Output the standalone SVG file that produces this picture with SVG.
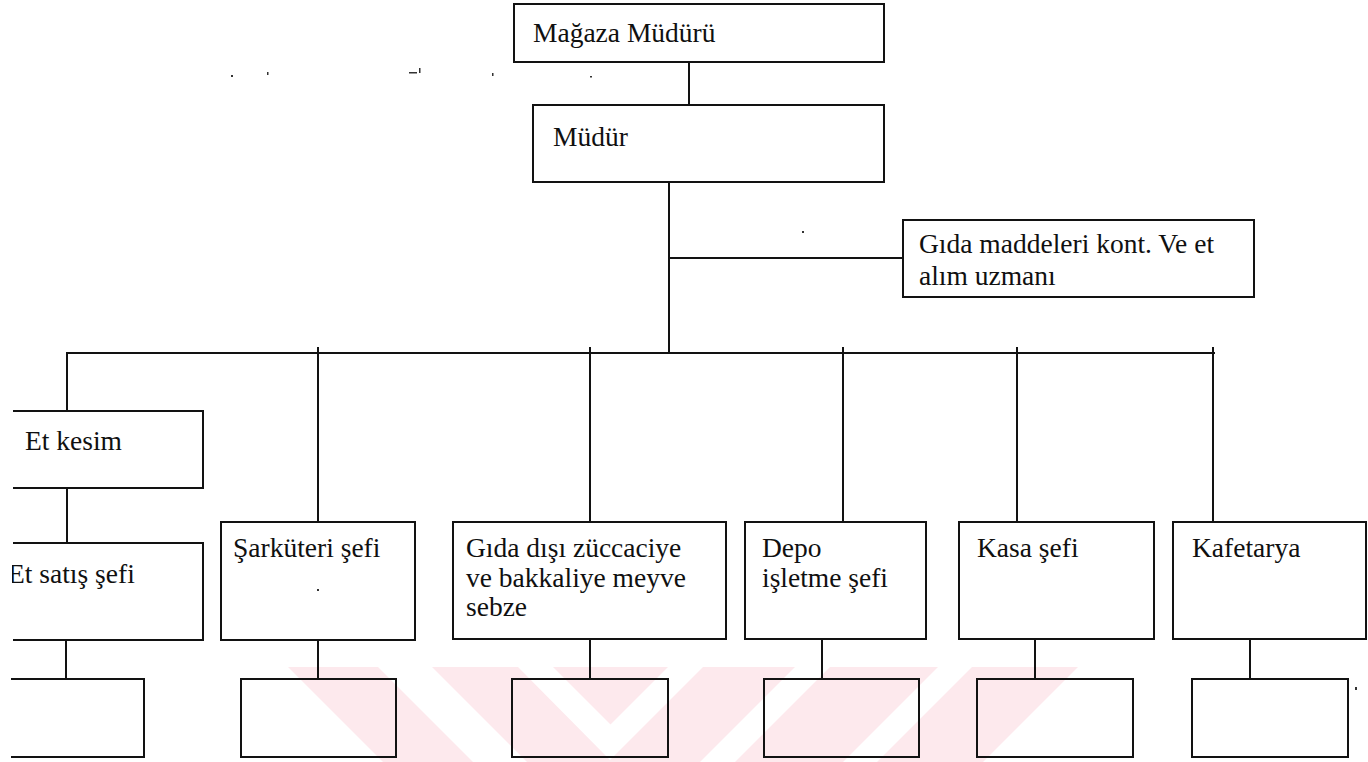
<svg xmlns="http://www.w3.org/2000/svg" width="1368" height="762" viewBox="0 0 1368 762">
  <style>
    .box { fill: none; stroke: #121212; stroke-width: 2; }
    .edge { fill: none; stroke: #121212; stroke-width: 2; }
    .lbl { font-family: "Liberation Serif", "Times New Roman", serif; font-size: 27.5px; fill: #101010; }
    .wm { fill: #fde9ed; }
    .speck { fill: #333; }
  </style>
  <defs>
    <clipPath id="leftCut">
      <rect x="12" y="0" width="1356" height="762"/>
    </clipPath>
  </defs>
  <rect x="0" y="0" width="1368" height="762" fill="#ffffff"/>

  <!-- faint pink background mark along the bottom edge -->
  <g id="backdrop-mark">
    <polygon class="wm" points="288,667 378,667 473,762 383,762"/>
    <polygon class="wm" points="432,667 518,667 610,760 610,762 527,762"/>
    <polygon class="wm" points="553,667 668,667 610.5,724.5"/>
    <polygon class="wm" points="703,667 795,667 700,762 610,762 610,760"/>
    <polygon class="wm" points="830,667 938,667 843,762 735,762"/>
    <polygon class="wm" points="972,667 1078,667 983,762 877,762"/>
  </g>

  <!-- small print marks -->
  <g id="specks">
    <rect class="speck" x="231" y="75" width="2" height="2"/>
    <rect class="speck" x="267" y="72" width="1.5" height="3"/>
    <rect class="speck" x="409" y="72" width="8" height="1.5"/>
    <rect class="speck" x="419" y="68" width="1.5" height="5"/>
    <rect class="speck" x="492" y="73" width="1.5" height="3"/>
    <rect class="speck" x="590" y="76" width="2" height="1.5"/>
    <rect class="speck" x="802" y="231" width="2" height="2"/>
    <rect class="speck" x="317" y="589" width="2" height="2"/>
    <rect class="speck" x="1355" y="687" width="2" height="3"/>
  </g>

  <!-- connectors -->
  <g id="connectors">
    <line class="edge" x1="689" y1="62" x2="689" y2="105"/>
    <line class="edge" x1="669" y1="182" x2="669" y2="354"/>
    <line class="edge" x1="669" y1="258" x2="903" y2="258"/>
    <line class="edge" x1="66" y1="353" x2="1215" y2="353"/>
    <line class="edge" x1="67" y1="353" x2="67" y2="411"/>
    <line class="edge" x1="318" y1="347" x2="318" y2="522"/>
    <line class="edge" x1="590" y1="347" x2="590" y2="522"/>
    <line class="edge" x1="843" y1="347" x2="843" y2="522"/>
    <line class="edge" x1="1017" y1="347" x2="1017" y2="522"/>
    <line class="edge" x1="1213" y1="347" x2="1213" y2="522"/>
    <line class="edge" x1="67" y1="488" x2="67" y2="543"/>
    <line class="edge" x1="66" y1="640" x2="66" y2="679"/>
    <line class="edge" x1="318" y1="640" x2="318" y2="679"/>
    <line class="edge" x1="590" y1="640" x2="590" y2="679"/>
    <line class="edge" x1="822" y1="640" x2="822" y2="679"/>
    <line class="edge" x1="1035" y1="640" x2="1035" y2="679"/>
    <line class="edge" x1="1250" y1="640" x2="1250" y2="679"/>
  </g>

  <g id="magaza-muduru">
    <rect class="box" x="514" y="4" width="370" height="58"/>
    <text class="lbl" x="533" y="42">Mağaza Müdürü</text>
  </g>

  <g id="mudur">
    <rect class="box" x="533" y="105" width="351" height="77"/>
    <text class="lbl" x="553" y="146">Müdür</text>
  </g>

  <g id="gida-kontrol-uzmani">
    <rect class="box" x="903" y="220" width="351" height="77"/>
    <text class="lbl" x="919" y="253">Gıda maddeleri kont. Ve et</text>
    <text class="lbl" x="919" y="285">alım uzmanı</text>
  </g>

  <g id="et-kesim">
    <path class="box" d="M13,411 H203 V488 H13"/>
    <text class="lbl" x="25" y="450">Et kesim</text>
  </g>

  <g id="et-satis-sefi">
    <path class="box" d="M13,543 H203 V640 H13"/>
    <text class="lbl" x="8" y="583" clip-path="url(#leftCut)">Et satış şefi</text>
  </g>

  <g id="sarkuteri-sefi">
    <rect class="box" x="221" y="522" width="194" height="118"/>
    <text class="lbl" x="233" y="557">Şarküteri şefi</text>
  </g>

  <g id="gida-disi">
    <rect class="box" x="453" y="522" width="273" height="117"/>
    <text class="lbl" x="466" y="557">Gıda dışı züccaciye</text>
    <text class="lbl" x="466" y="587">ve bakkaliye meyve</text>
    <text class="lbl" x="466" y="616">sebze</text>
  </g>

  <g id="depo-isletme-sefi">
    <rect class="box" x="745" y="522" width="181" height="117"/>
    <text class="lbl" x="762" y="557">Depo</text>
    <text class="lbl" x="762" y="587">işletme şefi</text>
  </g>

  <g id="kasa-sefi">
    <rect class="box" x="959" y="522" width="195" height="117"/>
    <text class="lbl" x="977" y="557">Kasa şefi</text>
  </g>

  <g id="kafetarya">
    <rect class="box" x="1173" y="522" width="193" height="117"/>
    <text class="lbl" x="1192" y="557">Kafetarya</text>
  </g>

  <g id="alt-1">
    <path class="box" d="M11,679 H144 V757 H11"/>
  </g>
  <g id="alt-2">
    <rect class="box" x="241" y="679" width="155" height="78"/>
  </g>
  <g id="alt-3">
    <rect class="box" x="512" y="679" width="156" height="78"/>
  </g>
  <g id="alt-4">
    <rect class="box" x="764" y="679" width="155" height="78"/>
  </g>
  <g id="alt-5">
    <rect class="box" x="977" y="679" width="156" height="78"/>
  </g>
  <g id="alt-6">
    <rect class="box" x="1192" y="679" width="156" height="78"/>
  </g>
</svg>
